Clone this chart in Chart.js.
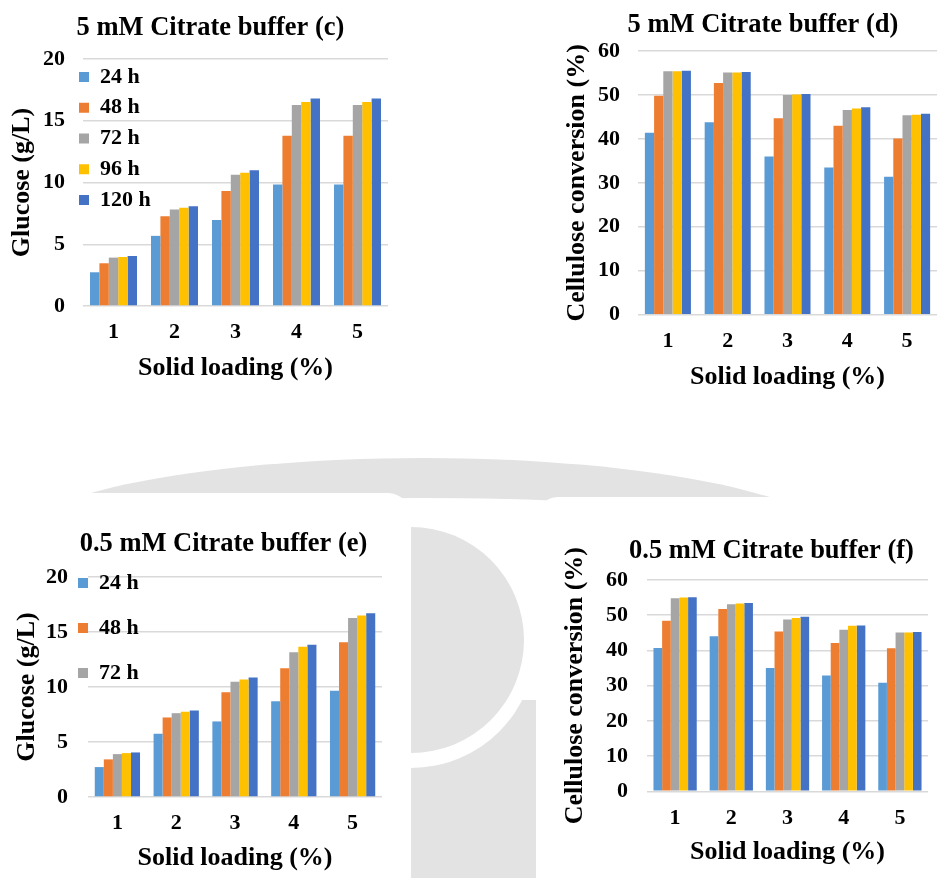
<!DOCTYPE html>
<html>
<head>
<meta charset="utf-8">
<script src="https://cdn.jsdelivr.net/npm/chart.js@4.4.1/dist/chart.umd.min.js"></script>
<style>
  html, body { margin: 0; padding: 0; background: #fff; }
  #page { position: relative; width: 937px; height: 878px; overflow: hidden; }
  .bg { position: absolute; }
  .box { position: absolute; }
  canvas { display: block; }
</style>
</head>
<body>
<div id="page">
  <!-- faint watermark behind the lower charts -->
  <div class="bg" style="left:3px;top:458px;width:840px;height:180px;border-radius:50%;border-top:40px solid #e3e3e3;box-sizing:border-box"></div>
  <div class="bg" style="left:0;top:493px;width:410px;height:385px;background:#fff;border-top-right-radius:22px"></div>
  <div class="bg" style="left:536px;top:497px;width:401px;height:381px;background:#fff;border-top-left-radius:22px"></div>
  <div class="bg" style="left:411px;top:700px;width:125px;height:178px;background:#e3e3e3"></div>
  <div class="bg" style="left:411px;top:512px;width:125px;height:256px;background:#fff;border-radius:0 128px 128px 0"></div>
  <div class="bg" style="left:411px;top:527px;width:113px;height:226px;background:#e3e3e3;border-radius:0 113px 113px 0"></div>

  <div class="box" style="left:0;top:0"><canvas id="chartC" width="400" height="400"></canvas></div>
  <div class="box" style="left:470px;top:0"><canvas id="chartD" width="467" height="400"></canvas></div>
  <div class="box" style="left:0;top:480px"><canvas id="chartE" width="400" height="398"></canvas></div>
  <div class="box" style="left:470px;top:480px"><canvas id="chartF" width="467" height="398"></canvas></div>
</div>
<script>
const loadingLabels = ['1', '2', '3', '4', '5'];
const hourLabels = ['24 h', '48 h', '72 h', '96 h', '120 h'];
const hourColors = ['#5B9BD5', '#ED7D31', '#A5A5A5', '#FFC000', '#4472C4'];

// one row per hydrolysis time (24, 48, 72, 96, 120 h), one value per solid loading
const glucose5mM = [
    [2.73, 5.68, 6.97, 9.84, 9.84],
    [3.46, 7.27, 9.32, 13.78, 13.78],
    [3.92, 7.81, 10.62, 16.27, 16.27],
    [3.97, 7.95, 10.78, 16.51, 16.51],
    [4.05, 8.08, 11.0, 16.81, 16.81]
];
const conversion5mM = [
    [41.4, 43.8, 36.0, 33.5, 31.4],
    [49.8, 52.7, 44.7, 43.0, 40.1],
    [55.4, 55.1, 50.0, 46.6, 45.4],
    [55.4, 55.1, 50.1, 46.9, 45.5],
    [55.5, 55.2, 50.2, 47.2, 45.75]
];
const glucose05mM = [
    [2.72, 5.75, 6.87, 8.71, 9.65],
    [3.42, 7.23, 9.53, 11.71, 14.07],
    [3.90, 7.62, 10.47, 13.16, 16.28],
    [3.99, 7.75, 10.68, 13.65, 16.49],
    [4.05, 7.87, 10.86, 13.83, 16.70]
];
const conversion05mM = [
    [40.7, 44.0, 35.0, 32.9, 30.8],
    [48.4, 51.8, 45.4, 42.1, 40.6],
    [54.8, 53.1, 48.8, 45.9, 45.1],
    [55.0, 53.3, 49.2, 47.0, 45.1],
    [55.1, 53.5, 49.6, 47.1, 45.2]
];

const glucoseTicks = [0, 5, 10, 15, 20];
const conversionTicks = [0, 10, 20, 30, 40, 50, 60];
const legendShownC = ['24 h', '48 h', '72 h', '96 h', '120 h'];
const legendShownE = ['24 h', '48 h', '72 h'];

Chart.defaults.font.family = "'Liberation Serif', 'Times New Roman', serif";
Chart.defaults.font.weight = 'bold';
Chart.defaults.color = '#000';

// moves the title and the in-plot legend to where the original ones sit
const nudge = {
    id: 'nudge',
    afterLayout(chart, args, opts) {
        const area = chart.chartArea;
        if (chart.titleBlock && opts.titleDx) {
            chart.titleBlock.left += opts.titleDx;
            chart.titleBlock.right += opts.titleDx;
        }
        const legend = chart.legend;
        if (legend && opts.legendDx !== undefined) {
            legend.left = area.left + opts.legendDx;
            legend.right = legend.left + legend.width;
            legend.top = area.top + opts.legendDy;
            legend.bottom = area.bottom;
        }
    }
};

function makeChart(canvasId, rows, yTicks, cfg) {
    const ctx = document.getElementById(canvasId).getContext('2d');
    const legend = cfg.legend ? {
        display: true,
        position: 'chartArea',
        align: 'start',
        labels: {
            boxWidth: 10,
            boxHeight: 10,
            padding: cfg.legend.padding,
            font: { size: 22, weight: 'bold' },
            filter: item => cfg.legend.shown.includes(item.text)
        }
    } : { display: false };

    return new Chart(ctx, {
        type: 'bar',
        data: {
            labels: loadingLabels,
            datasets: rows.map((values, i) => ({
                label: hourLabels[i],
                data: values,
                backgroundColor: hourColors[i],
                borderWidth: 0,
                categoryPercentage: 0.77,
                barPercentage: 1
            }))
        },
        options: {
            responsive: false,
            animation: false,
            layout: { padding: { left: 0, top: 0, bottom: 0, right: cfg.padRight } },
            plugins: {
                title: {
                    display: true,
                    text: cfg.title,
                    font: { size: 26.5, weight: 'bold' },
                    padding: cfg.titlePadding
                },
                legend: legend,
                nudge: {
                    titleDx: cfg.titleDx,
                    legendDx: cfg.legend ? cfg.legend.dx : undefined,
                    legendDy: cfg.legend ? cfg.legend.dy : undefined
                },
                tooltip: { enabled: false }
            },
            scales: {
                x: {
                    grid: { display: false },
                    border: { display: false },
                    ticks: { font: { size: 22, weight: 'bold' }, padding: cfg.xTickPadding },
                    title: {
                        display: true,
                        text: 'Solid loading (%)',
                        font: { size: 26, weight: 'bold' },
                        padding: { top: 0, bottom: cfg.xTitleBottom }
                    },
                    afterFit: scale => { scale.height = cfg.xHeight; }
                },
                y: {
                    min: yTicks[0],
                    max: yTicks[yTicks.length - 1],
                    grid: { color: '#d9d9d9', lineWidth: 1.5, drawTicks: false },
                    border: { display: false },
                    ticks: {
                        stepSize: yTicks[1] - yTicks[0],
                        font: { size: 22, weight: 'bold' },
                        padding: cfg.yTickPadding
                    },
                    title: {
                        display: true,
                        text: cfg.yTitle,
                        font: { size: 26, weight: 'bold' },
                        padding: { top: cfg.yTitleTop, bottom: 0 }
                    },
                    afterFit: scale => { scale.width = cfg.yWidth; }
                }
            }
        },
        plugins: [nudge]
    });
}

makeChart('chartC', glucose5mM, glucoseTicks, {
    title: '5 mM Citrate buffer (c)',
    yTitle: 'Glucose (g/L)',
    padRight: 12, titleDx: 16.5,
    titlePadding: { top: 12.6, bottom: 14.6 },
    yWidth: 83, yTickPadding: 18, yTitleTop: 6.4,
    xHeight: 94, xTickPadding: 4.8, xTitleBottom: 16.4,
    legend: { padding: 8.75, shown: legendShownC, dx: -12.75, dy: -1.75 }
});

makeChart('chartD', conversion5mM, conversionTicks, {
    title: '5 mM Citrate buffer (d)',
    yTitle: 'Cellulose conversion (%)',
    padRight: 0, titleDx: 59.5,
    titlePadding: { top: 9.1, bottom: 10.1 },
    yWidth: 168, yTickPadding: 18, yTitleTop: 91.4,
    xHeight: 85.3, xTickPadding: 5.1, xTitleBottom: 7.4
});

makeChart('chartE', glucose05mM, glucoseTicks, {
    title: '0.5 mM Citrate buffer (e)',
    yTitle: 'Glucose (g/L)',
    padRight: 18, titleDx: 32.5,
    titlePadding: { top: 48.1, bottom: 17.1 },
    yWidth: 88, yTickPadding: 20, yTitleTop: 11.4,
    xHeight: 81, xTickPadding: 4.8, xTitleBottom: 4.4,
    legend: { padding: 23, shown: legendShownE, dx: -33, dy: -28 }
});

makeChart('chartF', conversion05mM, conversionTicks, {
    title: '0.5 mM Citrate buffer (f)',
    yTitle: 'Cellulose conversion (%)',
    padRight: 9, titleDx: 72.5,
    titlePadding: { top: 55.1, bottom: 13.1 },
    yWidth: 177, yTickPadding: 19, yTitleTop: 89.4,
    xHeight: 86.7, xTickPadding: 5.5, xTitleBottom: 10.4
});
</script>
</body>
</html>
